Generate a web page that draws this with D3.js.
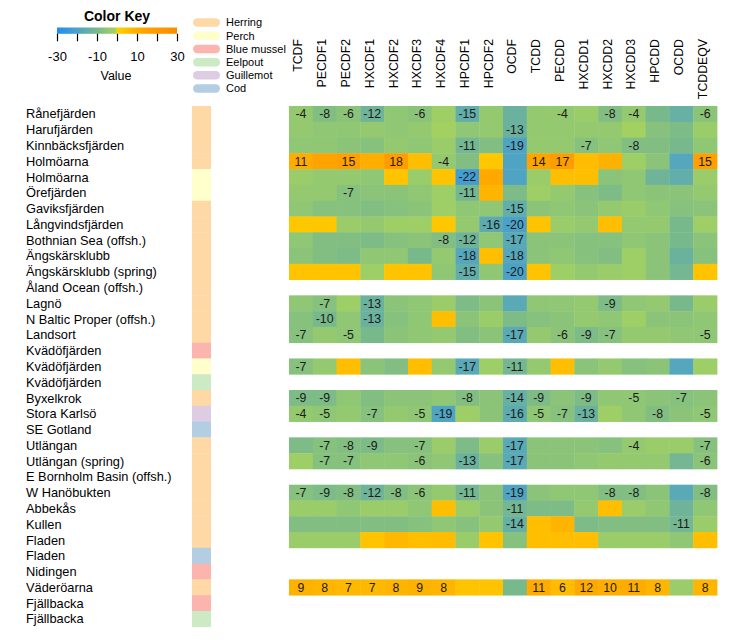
<!DOCTYPE html>
<html>
<head>
<meta charset="utf-8">
<script src="https://cdn.jsdelivr.net/npm/d3@7"></script>
<style>
  html, body { margin: 0; padding: 0; background: #fff; }
  svg { display: block; font-family: "Liberation Sans", Arial, sans-serif; }
</style>
</head>
<body>
<svg id="chart" width="730" height="640"></svg>
<script>
// ---------------- DATA ----------------
const columns = ["TCDF","PECDF1","PECDF2","HXCDF1","HXCDF2","HXCDF3","HXCDF4","HPCDF1","HPCDF2",
                 "OCDF","TCDD","PECDD","HXCDD1","HXCDD2","HXCDD3","HPCDD","OCDD","TCDDEQV"];

const rowNames = ["Rånefjärden","Harufjärden","Kinnbäcksfjärden","Holmöarna","Holmöarna","Örefjärden",
  "Gaviksfjärden","Långvindsfjärden","Bothnian Sea (offsh.)","Ängskärsklubb","Ängskärsklubb (spring)",
  "Åland Ocean (offsh.)","Lagnö","N Baltic Proper (offsh.)","Landsort","Kvädöfjärden","Kvädöfjärden",
  "Kvädöfjärden","Byxelkrok","Stora Karlsö","SE Gotland","Utlängan","Utlängan (spring)",
  "E Bornholm Basin (offsh.)","W Hanöbukten","Abbekås","Kullen","Fladen","Fladen","Nidingen",
  "Väderöarna","Fjällbacka","Fjällbacka"];

const rowSpecies = ["Herring","Herring","Herring","Herring","Perch","Perch","Herring","Herring","Herring",
  "Herring","Herring","Herring","Herring","Herring","Herring","Blue mussel","Perch","Eelpout","Herring",
  "Guillemot","Cod","Herring","Herring","Herring","Herring","Herring","Herring","Herring","Cod",
  "Blue mussel","Herring","Blue mussel","Eelpout"];

const speciesNames = ["Herring","Perch","Blue mussel","Eelpout","Guillemot","Cod"];
const speciesColors = ["#FED9A6","#FFFFCC","#FBB4AE","#CCEBC5","#DECBE4","#B3CDE3"];

// trend values (null = no data)
const values = [
  [-4,-8,-6,-12,-5,-6,-2,-15,-4,-13,-4,-4,-3,-8,-4,-10,-14,-6],
  [-4,-5,-5,-4,-5,-4,-1,-5,-4,-13,-4,-4,-4,-4,-1,-7,-9,-3],
  [-5,-5,-6,-7,-4,-5,-3,-11,-8,-19,-4,-4,-7,-5,-8,-8,-10,-5],
  [11,14,15,10,18,5,-4,-8,3,-19,14,17,6,9,-2,-6,-18,15],
  [-3,-4,-4,-5,4,-3,4,-22,12,-19,-3,5,5,-6,-5,-12,-15,-3],
  [-4,-4,-7,-6,-6,-5,-2,-11,8,-9,-2,-4,-7,-9,-5,-6,-6,-4],
  [-5,-7,-7,-8,-7,-6,-2,-5,-5,-15,-6,-5,-6,-4,-3,-5,-7,-6],
  [3,3,-3,-4,-2,-2,3,-4,-16,-20,4,-3,-4,5,-4,-4,-10,-2],
  [-5,-8,-8,-9,-7,-6,-8,-12,-5,-17,-6,-6,-7,-7,-5,-6,-10,-6],
  [-6,-8,-9,-5,-5,-10,-4,-18,5,-18,-6,-5,-7,-8,-2,-6,-13,-7],
  [4,4,4,-2,4,4,-5,-15,-5,-20,4,-2,-4,-3,-2,-6,-11,4],
  null,
  [-5,-7,-2,-13,-6,-5,-3,-9,-6,-17,-5,-5,-4,-9,-5,-4,-10,-3],
  [-7,-10,-5,-13,-7,-5,5,-6,-3,-9,-7,-6,-4,-5,-2,-6,-6,-5],
  [-7,-4,-5,-10,-6,-5,-4,-8,-6,-17,-4,-6,-9,-7,-4,-4,-5,-5],
  null,
  [-7,-4,5,-6,-8,5,-4,-17,-2,-11,-4,5,-6,-4,-7,-6,-18,-2],
  null,
  [-9,-9,-5,-8,-6,-6,-5,-8,-6,-14,-9,-6,-9,-5,-5,-6,-7,-6],
  [-4,-5,-4,-7,-4,-5,-19,-2,-6,-16,-5,-7,-13,-2,-5,-8,-6,-5],
  null,
  [-9,-7,-8,-9,-7,-7,-3,-9,-3,-17,-6,-6,-6,-7,-4,-3,-3,-7],
  [-2,-7,-7,-5,-5,-6,-5,-13,-7,-17,-6,-6,-5,-4,-4,-4,-11,-6],
  null,
  [-7,-9,-8,-12,-8,-6,-4,-11,-6,-19,-6,-5,-5,-8,-8,-6,-17,-8],
  [-3,-3,-5,-3,-3,-5,5,-3,-6,-11,-9,-9,-4,5,-3,-5,-12,-5],
  [-8,-8,-8,-8,-8,-7,-5,-7,-4,-14,5,8,-9,-8,-8,-8,-11,-3],
  [-3,-3,-3,4,7,5,6,-3,4,-7,5,5,5,-3,-3,-3,-5,5],
  null,
  null,
  [9,8,7,7,8,9,8,4,4,-10,11,6,12,10,11,8,-3,8],
  null,
  null
];

// which cells carry a printed value (1 = shown)
const shown = [
  "111101010001011001",
  "000000000100000000",
  "000000010100101000",
  "101010100011000001",
  "000000010000000000",
  "001000010000000000",
  "000000000100000000",
  "000000001100000000",
  "000000110100000000",
  "000000010100000000",
  "000000010100000000",
  "",
  "010100000000010000",
  "010100000000000000",
  "101000000101110001",
  "",
  "100000010100000000",
  "",
  "110000010110101010",
  "110101100111100101",
  "",
  "011101000100001001",
  "011001010100000001",
  "",
  "111111010100011001",
  "000000000100000000",
  "000000000100000010",
  "000000000000000000",
  "",
  "",
  "111111100011111101",
  "",
  ""
];

const keyTicks = [-30,-20,-10,0,10,20,30];
const keyLabels = [-30,-10,10,30];

// ---------------- SCALES ----------------
const color = d3.scaleLinear()
  .domain([-30,-20,-10,-0.001,0,8,15,30])
  .range(["#1E8EF5","#4BA2C9","#78B98C","#A8D45C","#FFD200","#FFB400","#FFA000","#FF8C00"])
  .clamp(true);

const speciesColor = d3.scaleOrdinal().domain(speciesNames).range(speciesColors);

const x = d3.scaleBand().domain(d3.range(columns.length)).range([289, 717]).padding(0);
const y = d3.scaleBand().domain(d3.range(rowNames.length)).range([106, 626.7]).padding(0);

const svg = d3.select("#chart");
const FONT = "'Liberation Sans', Arial, sans-serif";

// ---------------- HEATMAP CELLS ----------------
const cells = [];
values.forEach((row, r) => {
  if (!row) return;
  row.forEach((v, c) => {
    cells.push({r, c, v, show: shown[r][c] === "1"});
  });
});

svg.append("g").selectAll("rect").data(cells).join("rect")
  .attr("x", d => x(d.c))
  .attr("y", d => y(d.r))
  .attr("width", x.bandwidth() + 0.4)
  .attr("height", y.bandwidth() + 0.4)
  .attr("fill", d => color(d.v));

svg.append("g").selectAll("text").data(cells.filter(d => d.show)).join("text")
  .attr("x", d => x(d.c) + x.bandwidth() / 2)
  .attr("y", d => y(d.r) + y.bandwidth() / 2 + 4.3)
  .attr("text-anchor", "middle")
  .attr("font-size", "12.3px")
  .attr("fill", "#1a1a1a")
  .text(d => d.v);

// ---------------- SIDE SPECIES BAR ----------------
svg.append("g").selectAll("rect").data(rowSpecies).join("rect")
  .attr("x", 192)
  .attr("y", (d, i) => y(i))
  .attr("width", 19)
  .attr("height", y.bandwidth() + 0.4)
  .attr("fill", d => speciesColor(d));

// ---------------- ROW LABELS ----------------
svg.append("g").selectAll("text").data(rowNames).join("text")
  .attr("x", 26)
  .attr("y", (d, i) => y(i) + y.bandwidth() / 2 + 4.6)
  .attr("font-size", "12.8px")
  .attr("fill", "#000")
  .text(d => d);

// ---------------- COLUMN LABELS ----------------
svg.append("g").selectAll("text").data(columns).join("text")
  .attr("transform", (d, i) => `translate(${x(i) + x.bandwidth() / 2 + 1.5},39) rotate(-90)`)
  .attr("text-anchor", "end")
  .attr("font-size", "12.3px")
  .attr("fill", "#000")
  .text(d => d);

// ---------------- COLOR KEY ----------------
const keyX = d3.scaleLinear().domain([-30, 30]).range([57, 177]);
const defs = svg.append("defs");
const grad = defs.append("linearGradient").attr("id", "keygrad")
  .attr("x1", "0%").attr("x2", "100%").attr("y1", "0%").attr("y2", "0%");
d3.range(-30, 30.01, 0.5).forEach(v => {
  grad.append("stop")
    .attr("offset", ((v + 30) / 60 * 100) + "%")
    .attr("stop-color", color(v));
});

svg.append("text")
  .attr("x", 117).attr("y", 21)
  .attr("text-anchor", "middle")
  .attr("font-size", "14px")
  .attr("font-weight", "bold")
  .text("Color Key");

svg.append("rect")
  .attr("x", keyX(-30)).attr("y", 27.5)
  .attr("width", keyX(30) - keyX(-30)).attr("height", 6.3)
  .attr("fill", "url(#keygrad)");

const keyAxis = d3.axisBottom(keyX)
  .tickValues(keyTicks)
  .tickSize(7.5)
  .tickFormat(d => keyLabels.includes(d) ? d : "");

const ka = svg.append("g").attr("transform", "translate(0,33.8)").call(keyAxis);
ka.select(".domain").remove();
ka.selectAll(".tick line").attr("stroke", "#000").attr("stroke-width", 1.2);
ka.selectAll(".tick text")
  .attr("font-family", FONT)
  .attr("font-size", "13px")
  .attr("fill", "#000")
  .attr("y", 18)
  .attr("dy", "0.71em");

svg.append("text")
  .attr("x", 116).attr("y", 80)
  .attr("text-anchor", "middle")
  .attr("font-size", "12.5px")
  .text("Value");

// ---------------- SPECIES LEGEND ----------------
const leg = svg.append("g").selectAll("g").data(speciesNames).join("g")
  .attr("transform", (d, i) => `translate(193,${18.3 + i * 13.2})`);
leg.append("rect")
  .attr("x", 0).attr("y", 0)
  .attr("width", 27).attr("height", 8.5)
  .attr("rx", 4.2).attr("ry", 4.2)
  .attr("fill", d => speciesColor(d));
leg.append("text")
  .attr("x", 33).attr("y", 8)
  .attr("font-size", "11px")
  .attr("fill", "#000")
  .text(d => d);
</script>
</body>
</html>
